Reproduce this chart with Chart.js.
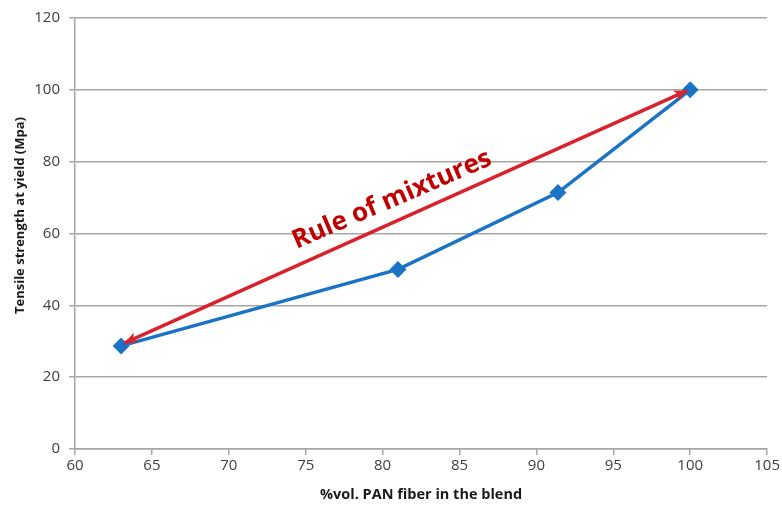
<!DOCTYPE html>
<html>
<head>
<meta charset="utf-8">
<script src="https://cdn.jsdelivr.net/npm/chart.js@4/dist/chart.umd.min.js"></script>
<style>
  html, body { margin: 0; padding: 0; background: #fff; }
  #wrap { width: 782px; height: 506px; }
</style>
</head>
<body>
<div id="wrap"><canvas id="myChart" width="782" height="506"></canvas></div>
<script>
// measured blend: PAN content vs tensile strength
const pctPan = [63, 81, 91.4, 100];
const tensile = [28.7, 50, 71.4, 100];

// rule of mixtures line (end points of the double arrow)
const mixX = [63.2, 99.8];
const mixY = [29.5, 99.8];

// label placed along the arrow
const mixLabel = 'Rule of mixtures';
const mixLabelAt = [80.6, 69.4];

const xTicks = [60, 65, 70, 75, 80, 85, 90, 95, 100, 105];
const yTicks = [0, 20, 40, 60, 80, 100, 120];

const yTitle = 'Tensile strength at yield (Mpa)';
const xTitle = '%vol. PAN fiber in the blend';

const GRID = '#a6a6a6';
const BLUE = '#1a73c4';
const RED = '#d8232c';
const FONT = "'Open Sans', 'Noto Sans', sans-serif";

// arrow heads on both ends of the red line, rotated label, y title
const arrowPlugin = {
  id: 'arrowPlugin',
  afterDatasetsDraw(chart) {
    const ctx = chart.ctx;
    const xs = chart.scales.x, ys = chart.scales.y;
    const p0 = { x: xs.getPixelForValue(mixX[0]), y: ys.getPixelForValue(mixY[0]) };
    const p1 = { x: xs.getPixelForValue(mixX[1]), y: ys.getPixelForValue(mixY[1]) };
    const ang = Math.atan2(p1.y - p0.y, p1.x - p0.x);

    function head(tip, a) {
      const len = 13, half = 5.5;
      ctx.save();
      ctx.translate(tip.x, tip.y);
      ctx.rotate(a);
      ctx.beginPath();
      ctx.moveTo(0, 0);
      ctx.lineTo(-len, -half);
      ctx.lineTo(-len * 0.75, 0);
      ctx.lineTo(-len, half);
      ctx.closePath();
      ctx.fillStyle = RED;
      ctx.fill();
      ctx.restore();
    }
    head(p1, ang);
    head(p0, ang + Math.PI);

    const lx = xs.getPixelForValue(mixLabelAt[0]);
    const ly = ys.getPixelForValue(mixLabelAt[1]);
    ctx.save();
    ctx.translate(lx, ly);
    ctx.rotate(ang + 0.015);
    ctx.font = "bold 26px " + FONT;
    ctx.fillStyle = '#c00000';
    ctx.textAlign = 'center';
    ctx.textBaseline = 'middle';
    ctx.fillText(mixLabel, 0, 0);
    ctx.restore();

    // y axis title sits a little above the middle of the axis
    ctx.save();
    ctx.translate(20, ys.getPixelForValue(65));
    ctx.rotate(-Math.PI / 2);
    ctx.font = "bold 13px " + FONT;
    ctx.fillStyle = '#1a1a1a';
    ctx.textAlign = 'center';
    ctx.textBaseline = 'middle';
    ctx.fillText(yTitle, 0, 0);
    ctx.restore();
  }
};

const chartConfig = {
  type: 'scatter',
  data: {
    datasets: [
      {
        label: 'Tensile strength',
        data: pctPan.map((x, i) => ({ x: x, y: tensile[i] })),
        showLine: true,
        borderColor: BLUE,
        backgroundColor: BLUE,
        borderWidth: 3.5,
        pointStyle: 'rectRot',
        pointRadius: 6,
        pointHoverRadius: 6,
        order: 2
      },
      {
        label: 'Rule of mixtures',
        data: mixX.map((x, i) => ({ x: x, y: mixY[i] })),
        showLine: true,
        borderColor: RED,
        borderWidth: 3.5,
        pointRadius: 0,
        order: 1
      }
    ]
  },
  options: {
    responsive: false,
    animation: false,
    layout: { padding: { top: 16, right: 14, left: 0, bottom: 0 } },
    plugins: {
      legend: { display: false },
      tooltip: { enabled: false }
    },
    scales: {
      x: {
        type: 'linear',
        min: 60,
        max: 105,
        afterBuildTicks: s => { s.ticks = xTicks.map(v => ({ value: v })); },
        afterFit: s => { s.height = 57; },
        ticks: { color: '#404040', font: { family: FONT, size: 15 }, padding: 2, maxRotation: 0 },
        grid: { display: true, drawOnChartArea: false, drawTicks: true, tickLength: 6, color: GRID, lineWidth: 1.5 },
        border: { color: GRID, width: 1.5 },
        title: {
          display: true,
          text: xTitle,
          color: '#1a1a1a',
          font: { family: FONT, size: 14.5, weight: 'bold' },
          padding: { top: 0, bottom: 2 }
        }
      },
      y: {
        type: 'linear',
        min: 0,
        max: 120,
        afterBuildTicks: s => { s.ticks = yTicks.map(v => ({ value: v })); },
        afterFit: s => { s.width = 75; },
        ticks: { color: '#404040', font: { family: FONT, size: 15 }, padding: 9 },
        grid: { color: GRID, lineWidth: 1.5, tickLength: 6 },
        border: { color: GRID, width: 1.5 },
        title: { display: false }
      }
    }
  },
  plugins: [arrowPlugin]
};

new Chart(document.getElementById('myChart').getContext('2d'), chartConfig);
</script>
</body>
</html>
